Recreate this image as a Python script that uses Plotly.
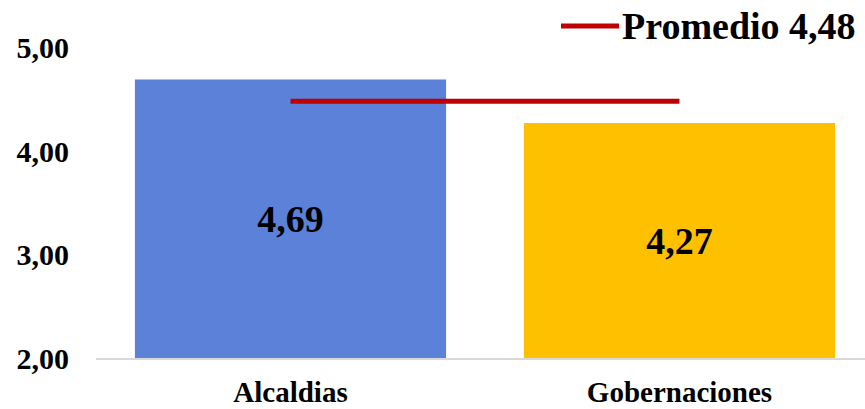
import plotly.graph_objects as go

# Average score per type of entity
categories = ["Alcaldias", "Gobernaciones"]
scores = [4.69, 4.27]
bar_colors = ["#5B82D8", "#FFC000"]
average = 4.48
y_ticks = [2.0, 3.0, 4.0, 5.0]


def comma(v):
    return f"{v:.2f}".replace(".", ",")


FONT = "Liberation Serif"

fig = go.Figure()

fig.add_trace(go.Bar(
    x=categories,
    y=[s - y_ticks[0] for s in scores],
    base=y_ticks[0],
    marker=dict(color=bar_colors, line=dict(width=0)),
    text=[comma(s) for s in scores],
    textposition="inside",
    insidetextanchor="middle",
    textangle=0,
    textfont=dict(family=FONT, size=38, color="black", weight="bold"),
    showlegend=False,
    hoverinfo="skip",
))

fig.add_trace(go.Scatter(
    x=categories,
    y=[average] * len(categories),
    mode="lines",
    line=dict(color="#C00000", width=5),
    showlegend=False,
    hoverinfo="skip",
))

# Legend entry for the average line
fig.add_shape(
    type="line", xref="paper", yref="paper",
    x0=(561 - 96) / 769, x1=(619 - 96) / 769,
    y0=0.982, y1=0.982,
    line=dict(color="#C00000", width=5),
)
fig.add_annotation(
    xref="paper", yref="paper",
    x=(620 - 96) / 769, y=0.982,
    xanchor="left", yanchor="middle",
    text="Promedio " + comma(average),
    showarrow=False,
    font=dict(family=FONT, size=38, color="black", weight="bold"),
)

fig.update_layout(
    width=865, height=409,
    margin=dict(l=96, r=0, t=20, b=51),
    plot_bgcolor="white",
    paper_bgcolor="white",
    bargap=0.2,
    font=dict(family=FONT, color="black"),
)

fig.update_xaxes(
    range=[-0.5, 1.477],
    automargin=False,
    tickvals=categories,
    ticktext=[f"<b>{c}</b>" for c in categories],
    showgrid=False,
    showline=True, linecolor="#D9D9D9", linewidth=2,
    ticks="", ticklabelstandoff=7,
    tickfont=dict(family=FONT, size=29, color="black"),
)
fig.update_yaxes(
    range=[2, 2 + 338 / 103.5],
    automargin=False,
    tickvals=y_ticks,
    ticktext=[f"<b>{comma(t)}</b>" for t in y_ticks],
    showgrid=False,
    zeroline=False,
    showline=False,
    ticks="", ticklabelstandoff=26,
    tickfont=dict(family=FONT, size=30, color="black"),
)

fig.write_html("out.html")
